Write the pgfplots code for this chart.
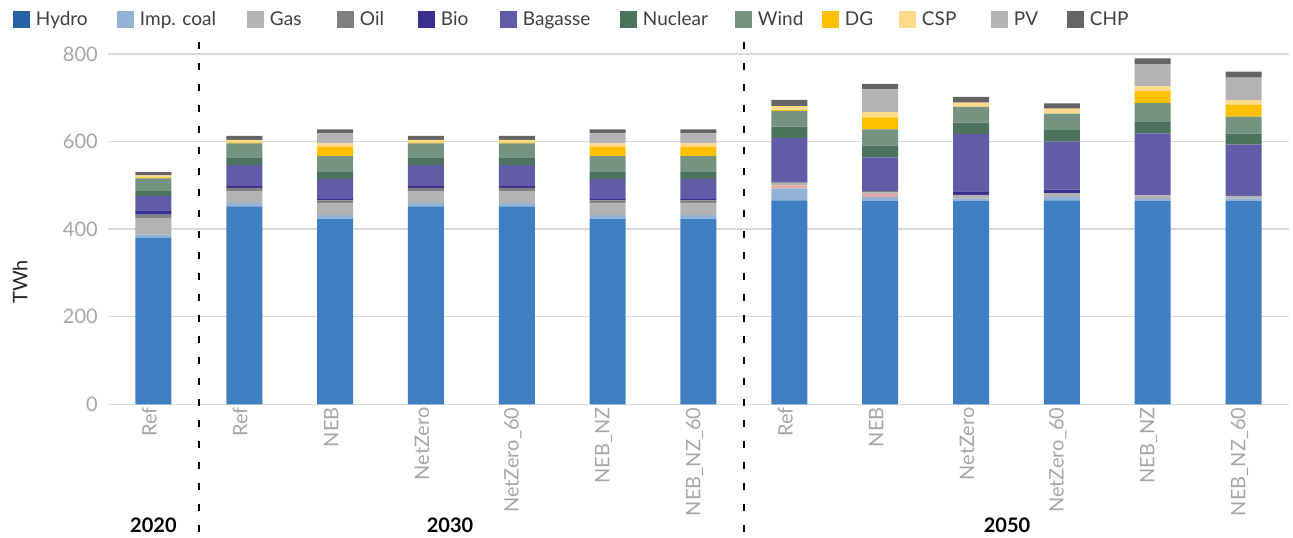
\documentclass[border=0pt]{standalone}
\usepackage{fontspec}
\setmainfont{Lato}
\usepackage{pgfplots}
\usepackage{pgfplotstable}
\pgfplotsset{compat=1.18}

\definecolor{hydro}{HTML}{3F7FC1}
\definecolor{hydroleg}{HTML}{2563A6}
\definecolor{impcoal}{HTML}{93B3D6}
\definecolor{pinkc}{HTML}{E8A9A6}
\definecolor{gas}{HTML}{B3B3B3}
\definecolor{oil}{HTML}{808080}
\definecolor{bio}{HTML}{3A2F8F}
\definecolor{bagasse}{HTML}{625BA8}
\definecolor{nuclear}{HTML}{4A725D}
\definecolor{wind}{HTML}{749481}
\definecolor{dg}{HTML}{FFC000}
\definecolor{csp}{HTML}{FFDA8A}
\definecolor{pv}{HTML}{B3B3B3}
\definecolor{chp}{HTML}{656565}
\definecolor{tickgray}{HTML}{A6A6A6}
\definecolor{gridgray}{HTML}{D9D9D9}
\definecolor{legtext}{HTML}{404040}

\newcommand\ff{\fontsize{20}{24}\selectfont}
\newcommand\lf{\fontsize{19}{23}\selectfont}
\newcommand\legent[2]{\hspace*{6pt}\makebox[#1pt][l]{#2}}

\pgfplotstableread{
x Hydro Imp Pink Gas Oil Bio Bag Nuc Wind DG CSP PV CHP
0 380 8 0 38 7 10 33 11 29 2 5 0 7
1 452 8 0 27 7 4 48 18 32 2 6 0 9
2 423 9 0 27 7 3 45 18 35 21 8 23 9
3 452 8 0 27 7 4 48 18 32 2 6 0 9
4 452 8 0 27 7 4 48 18 32 2 6 0 9
5 423 9 0 27 7 3 45 18 35 21 8 23 9
6 423 9 0 27 7 3 45 18 35 21 8 23 9
7 466 27 7 4 3 0 101 26 36 2 9 0 14
8 464 9 7 4 3 0 77 27 37 27 12 52 13
9 464 6 0 8 0 8 131 26 36 0 10 0 13
10 466 8 0 8 0 8 110 27 37 0 11 0 12
11 464 5 0 8 0 0 142 27 42 27 11 51 13
12 464 6 0 6 0 0 117 25 39 27 11 51 14
}\data

\begin{document}
\begin{tikzpicture}
\path[use as bounding box] (-108pt,-133.7pt) rectangle (1185pt,404.3pt);
\begin{axis}[
  at={(0,0)}, anchor=south west,
  scale only axis, width=1181pt, height=350.3pt,
  xmin=-0.5, xmax=12.5, ymin=0, ymax=800,
  ybar stacked, bar width=36pt,
  clip=false,
  axis line style={draw=none},
  major tick length=0pt,
  ymajorgrids, grid style={line width=1.5pt, gridgray},
  ytick={0,200,400,600,800},
  xtick={0,...,12},
  xticklabels={Ref,Ref,NEB,NetZero,NetZero\_60,NEB\_NZ,NEB\_NZ\_60,Ref,NEB,NetZero,NetZero\_60,NEB\_NZ,NEB\_NZ\_60},
  /pgf/number format/assume math mode=true,
  tick label style={font=\ff, text=tickgray},
  xticklabel style={rotate=90, anchor=east, inner sep=0pt, xshift=-3pt, yshift=4pt},
  yticklabel style={anchor=east, inner sep=0pt, xshift=-10pt},
  legend columns=-1,
  legend image code/.code={\fill[#1] (0pt,-8.5pt) rectangle (17pt,8.5pt);},
  legend style={at={(0,1)}, anchor=west, xshift=-95pt, yshift=35pt,
    draw=none, fill=none, inner sep=0pt, outer sep=0pt, column sep=0pt,
    nodes={inner sep=0pt, font=\lf, text=legtext}},
]
\addplot[fill=hydro, draw=none, legend image post style={fill=hydroleg}] table[x=x, y=Hydro] {\data};
\addlegendentry{\legent{81}{Hydro}}
\addplot[fill=impcoal, draw=none] table[x=x, y=Imp] {\data};
\addlegendentry{\legent{107}{Imp. coal}}
\addplot[fill=pinkc, draw=none, forget plot] table[x=x, y=Pink] {\data};
\addplot[fill=gas, draw=none] table[x=x, y=Gas] {\data};
\addlegendentry{\legent{67}{Gas}}
\addplot[fill=oil, draw=none] table[x=x, y=Oil] {\data};
\addlegendentry{\legent{58}{Oil}}
\addplot[fill=bio, draw=none] table[x=x, y=Bio] {\data};
\addlegendentry{\legent{59}{Bio}}
\addplot[fill=bagasse, draw=none] table[x=x, y=Bag] {\data};
\addlegendentry{\legent{97}{Bagasse}}
\addplot[fill=nuclear, draw=none] table[x=x, y=Nuc] {\data};
\addlegendentry{\legent{92}{Nuclear}}
\addplot[fill=wind, draw=none] table[x=x, y=Wind] {\data};
\addlegendentry{\legent{64}{Wind}}
\addplot[fill=dg, draw=none] table[x=x, y=DG] {\data};
\addlegendentry{\legent{54}{DG}}
\addplot[fill=csp, draw=none] table[x=x, y=CSP] {\data};
\addlegendentry{\legent{69}{CSP}}
\addplot[fill=pv, draw=none] table[x=x, y=PV] {\data};
\addlegendentry{\legent{53}{PV}}
\addplot[fill=chp, draw=none] table[x=x, y=CHP] {\data};
\addlegendentry{\legent{41}{CHP}}

\draw[black, line width=1.5pt, dash pattern=on 7pt off 14pt] (axis cs:0.5,827.6) -- (axis cs:0.5,-305.3);
\draw[black, line width=1.5pt, dash pattern=on 7pt off 14pt] (axis cs:6.5,827.6) -- (axis cs:6.5,-305.3);
\node[font=\ff\bfseries] at (axis cs:0,-275.6) {2020};
\node[font=\ff\bfseries] at (axis cs:3.265,-275.6) {2030};
\node[font=\ff\bfseries] at (axis cs:9.396,-275.6) {2050};
\node[rotate=90, font=\ff, text=black!85] at (axis cs:-1.4687,279.3) {TWh};
\end{axis}
\end{tikzpicture}
\end{document}
